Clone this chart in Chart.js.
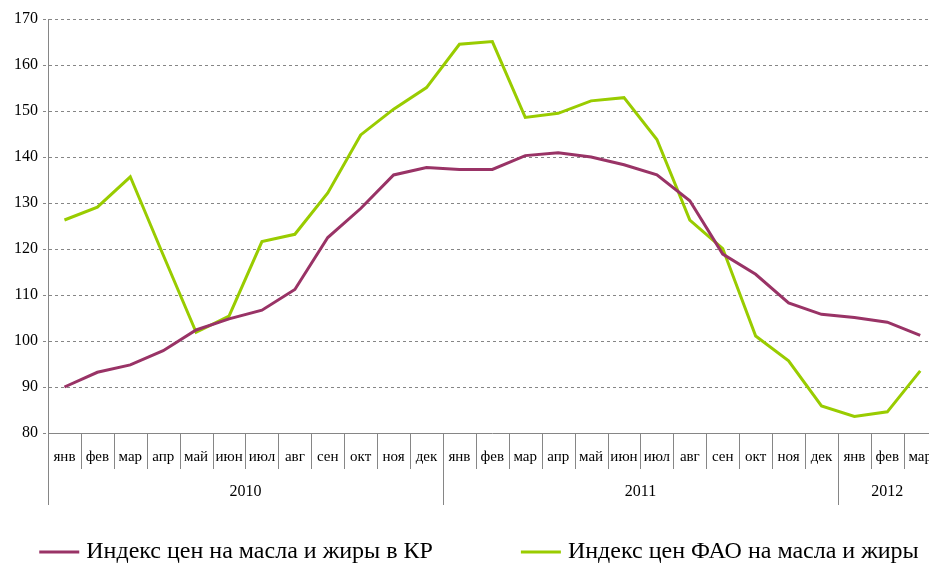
<!DOCTYPE html>
<html>
<head>
<meta charset="utf-8">
<script src="https://cdn.jsdelivr.net/npm/chart.js@4"></script>
<style>
  html, body { margin: 0; padding: 0; overflow: hidden; background: #fff; }
  #chart { display: block; }
</style>
</head>
<body>
<canvas id="chart" width="939" height="565"></canvas>
<script>
const months = ['янв','фев','мар','апр','май','июн','июл','авг','сен','окт','ноя','дек',
                'янв','фев','мар','апр','май','июн','июл','авг','сен','окт','ноя','дек',
                'янв','фев','мар'];
const yearLabels = ['2010', '2011', '2012'];
const yearLengths = [12, 12, 3];

const krIndex = [90.0, 93.2, 94.8, 97.9, 102.4, 104.8, 106.7, 111.2, 122.5, 128.8, 136.1, 137.7,
                 137.3, 137.3, 140.3, 140.9, 140.0, 138.3, 136.1, 130.5, 118.9, 114.5, 108.3, 105.8,
                 105.1, 104.1, 101.2];
const faoIndex = [126.3, 129.1, 135.7, 118.7, 101.9, 105.4, 121.6, 123.2, 132.2, 144.8, 150.4, 155.1,
                  164.5, 165.1, 148.6, 149.5, 152.2, 152.9, 143.8, 126.3, 120.1, 101.1, 95.7, 85.9,
                  83.6, 84.6, 93.5];

const serif = "'Liberation Serif', 'Times New Roman', serif";
const purple = '#993366';
const green = '#99CC00';
const axisGray = '#868686';

// month separators, year separators and year labels under the x axis
const yearAxis = {
  id: 'yearAxis',
  afterDraw(chart) {
    const x = chart.scales.x;
    const ctx = chart.ctx;
    const top = x.top;
    const yearStarts = [0];
    yearLengths.forEach(n => yearStarts.push(yearStarts[yearStarts.length - 1] + n));
    ctx.save();
    ctx.strokeStyle = axisGray;
    ctx.lineWidth = 1;
    for (let i = 0; i <= months.length; i++) {
      const bx = Math.round(x.getPixelForValue(i - 0.5)) + 0.5;
      const len = yearStarts.includes(i) ? 72 : 36;
      ctx.beginPath();
      ctx.moveTo(bx, top);
      ctx.lineTo(bx, top + len);
      ctx.stroke();
    }
    ctx.fillStyle = '#000';
    ctx.font = '16px ' + serif;
    ctx.textAlign = 'center';
    ctx.textBaseline = 'middle';
    yearLabels.forEach((lbl, k) => {
      const a = x.getPixelForValue(yearStarts[k] - 0.5);
      const b = x.getPixelForValue(yearStarts[k + 1] - 0.5);
      ctx.fillText(lbl, (a + b) / 2, top + 59);
    });
    ctx.restore();
  }
};

// legend drawn at the bottom
const bottomLegend = {
  id: 'bottomLegend',
  afterDraw(chart) {
    const ctx = chart.ctx;
    ctx.save();
    ctx.font = '24px ' + serif;
    ctx.textBaseline = 'middle';
    const lineW = 40, gap = 7, itemGap = 88;
    const items = chart.data.datasets.map(ds => ({
      text: ds.label, color: ds.borderColor, w: ctx.measureText(ds.label).width
    }));
    const total = items.reduce((s, it) => s + lineW + gap + it.w, 0) + itemGap * (items.length - 1);
    let x = 479 - total / 2;
    const y = 552;
    items.forEach(it => {
      ctx.strokeStyle = it.color;
      ctx.lineWidth = 3;
      ctx.beginPath();
      ctx.moveTo(x, y);
      ctx.lineTo(x + lineW, y);
      ctx.stroke();
      ctx.fillStyle = '#000';
      ctx.fillText(it.text, x + lineW + gap, y);
      x += lineW + gap + it.w + itemGap;
    });
    ctx.restore();
  }
};

new Chart(document.getElementById('chart'), {
  type: 'line',
  data: {
    labels: months,
    datasets: [
      {
        label: 'Индекс цен на масла и жиры в КР',
        data: krIndex,
        borderColor: purple,
        backgroundColor: purple,
        borderWidth: 3,
        pointRadius: 0,
        tension: 0
      },
      {
        label: 'Индекс цен ФАО на масла и жиры',
        data: faoIndex,
        borderColor: green,
        backgroundColor: green,
        borderWidth: 3,
        pointRadius: 0,
        tension: 0
      }
    ]
  },
  options: {
    responsive: false,
    animation: false,
    layout: { padding: { top: 19, left: 0, right: 0, bottom: 42 } },
    plugins: {
      legend: { display: false },
      tooltip: { enabled: false }
    },
    scales: {
      x: {
        offset: true,
        grid: { display: false },
        border: { color: axisGray },
        ticks: { color: '#000', font: { family: serif, size: 15 }, padding: 7, maxRotation: 0, autoSkip: false },
        afterFit(scale) { scale.height = 90; }
      },
      y: {
        min: 80,
        max: 170,
        ticks: { stepSize: 10, color: '#000', font: { family: serif, size: 16 }, padding: 5 },
        grid: { color: axisGray, tickColor: axisGray, tickLength: 5, tickBorderDash: [3, 3] },
        border: { color: axisGray, dash: [3, 3] },
        afterFit(scale) { scale.width = 48; }
      }
    }
  },
  plugins: [yearAxis, bottomLegend]
});
</script>
</body>
</html>
